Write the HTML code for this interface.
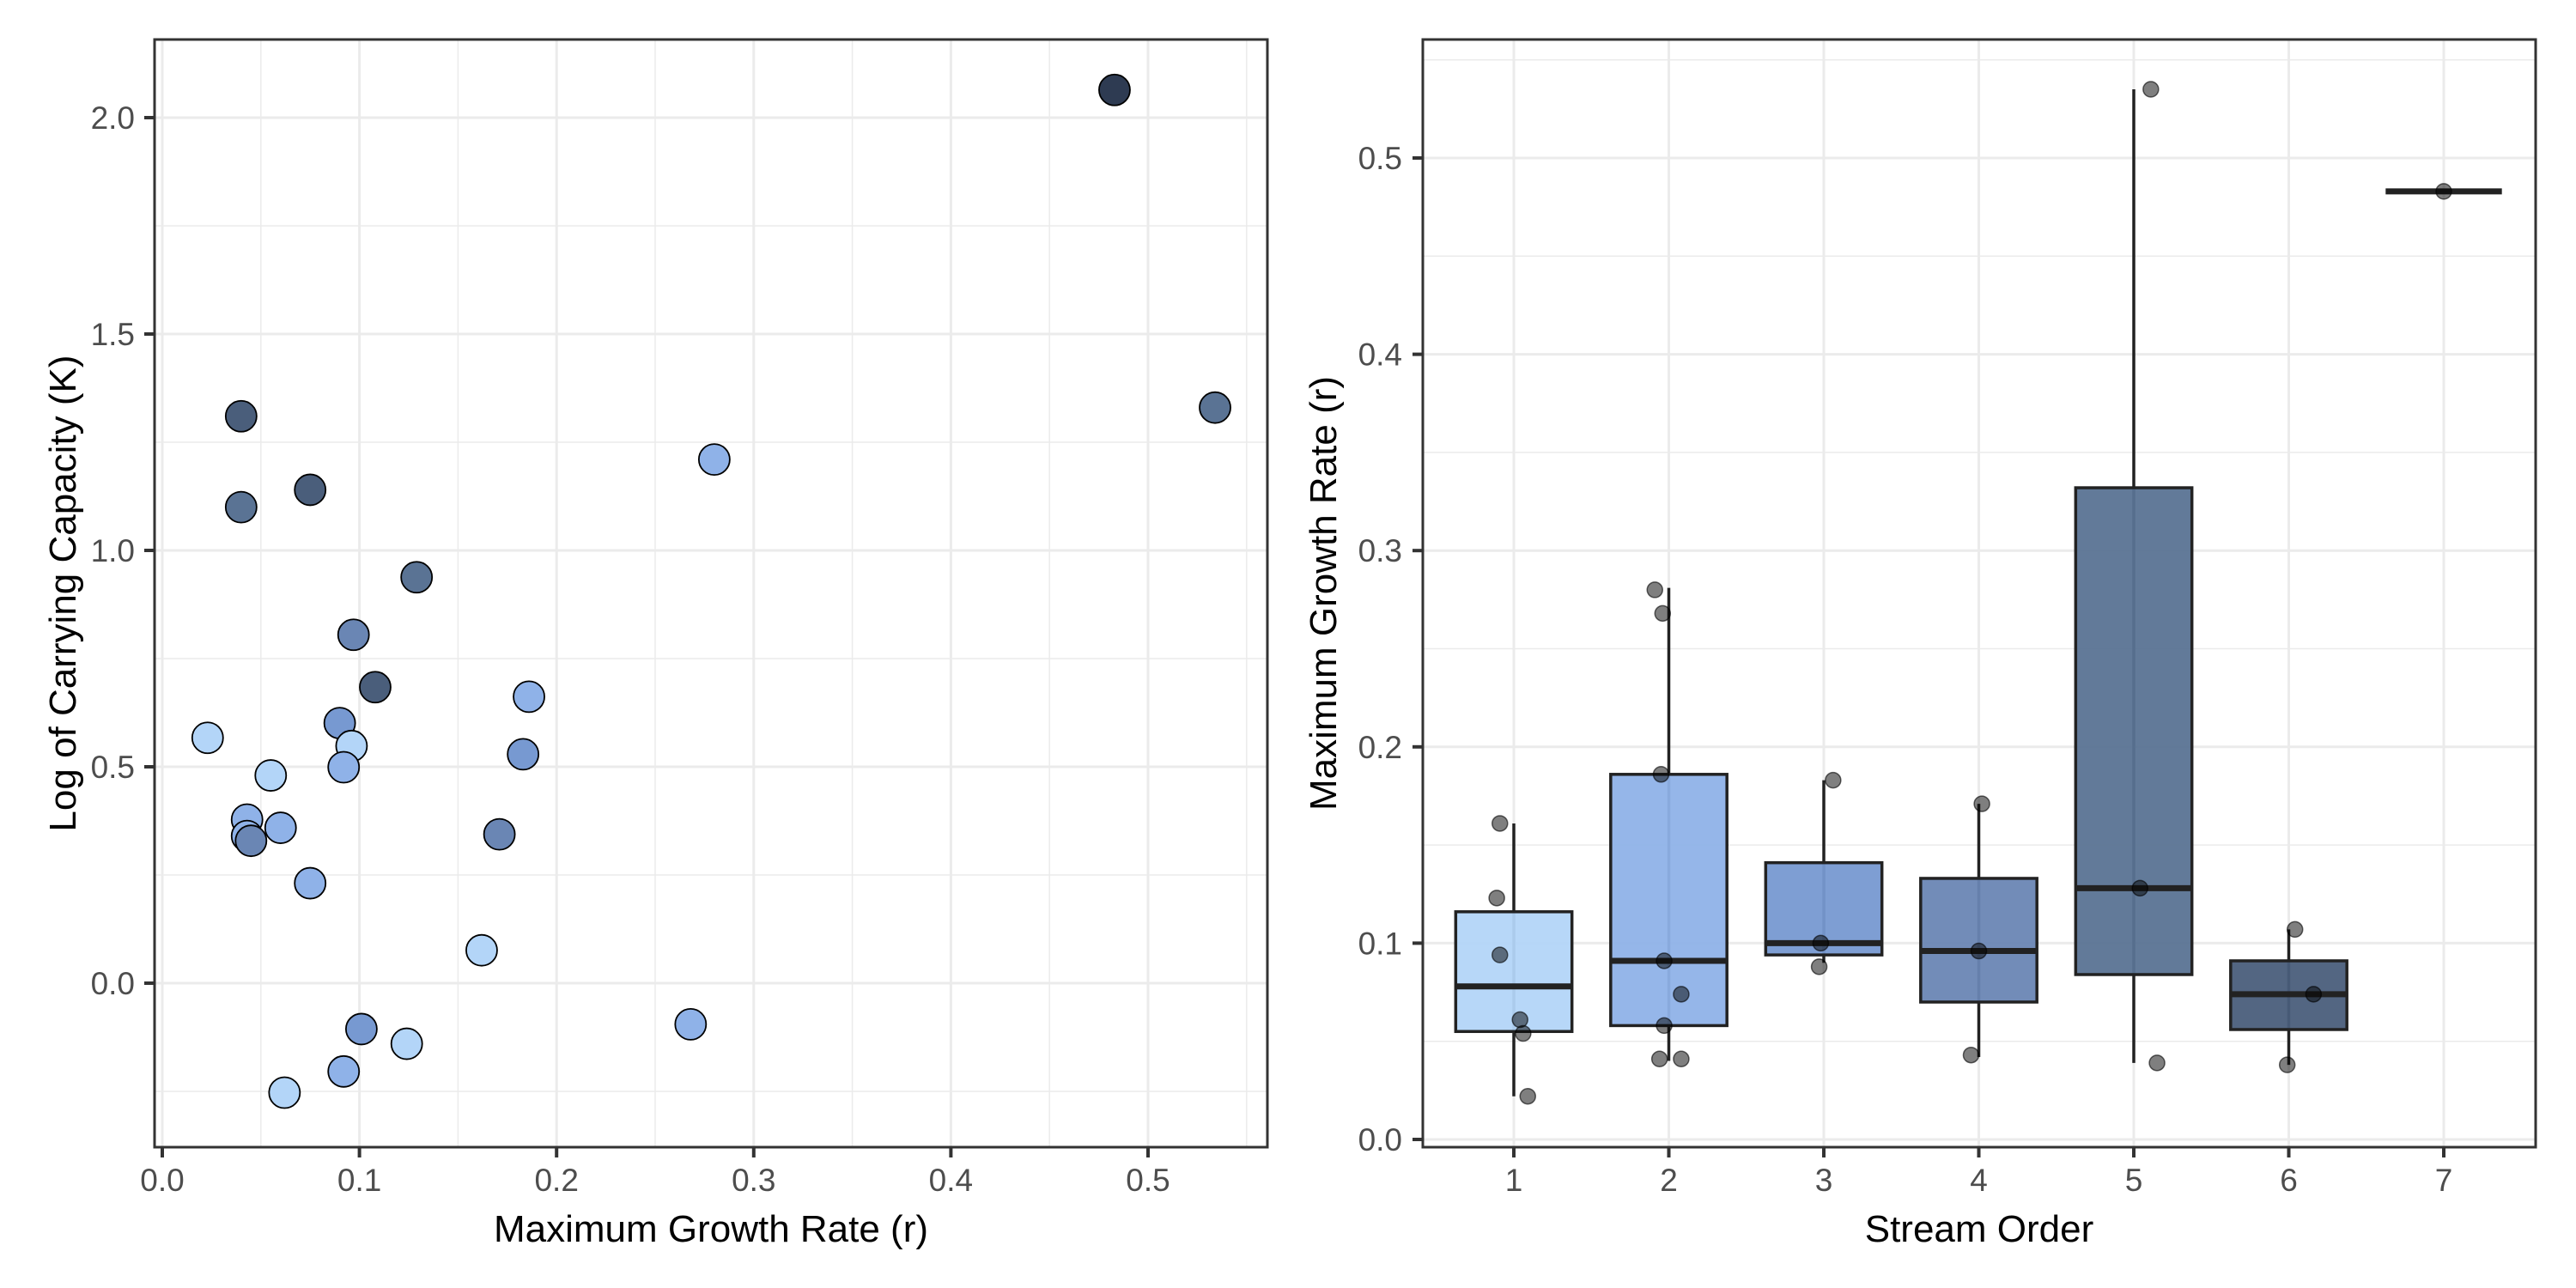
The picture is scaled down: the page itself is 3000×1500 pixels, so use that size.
<!DOCTYPE html>
<html><head><meta charset="utf-8"><style>
html,body{margin:0;padding:0;background:#fff;}
svg{display:block;font-family:"Liberation Sans",Arial,sans-serif;}
</style></head><body>
<svg id="chart" width="3000" height="1500" viewBox="0 0 3000 1500" xmlns="http://www.w3.org/2000/svg">
<rect width="3000" height="1500" fill="#fff"/>
<g id="left"></g>
<g id="right"></g>
</svg>
<script>
// ---- Scatter data ----
const scatterR = [0.483,0.534,0.280,0.040,0.040,0.075,0.129,0.097,0.108,0.023,0.090,0.096,0.092,0.055,0.186,0.183,0.043,0.060,0.043,0.045,0.171,0.075,0.162,0.268,0.101,0.124,0.092,0.062];
const scatterK = [2.064,1.33,1.21,1.31,1.10,1.14,0.938,0.805,0.684,0.567,0.601,0.548,0.499,0.48,0.662,0.529,0.378,0.359,0.34,0.329,0.344,0.231,0.076,-0.095,-0.106,-0.14,-0.204,-0.253];
const scatterOrder = [7,5,2,6,5,6,5,4,6,1,3,1,2,1,2,3,2,2,2,4,4,2,1,2,3,1,2,1];
const xTicksL = [0,0.1,0.2,0.3,0.4,0.5];
const xTickLabelsL = ["0.0","0.1","0.2","0.3","0.4","0.5"];
const yTicksL = [0,0.5,1,1.5,2];
const yTickLabelsL = ["0.0","0.5","1.0","1.5","2.0"];
// ---- Boxplot data ----
const categories = ["1","2","3","4","5","6","7"];
const boxLow = [0.022,0.040,0.090,0.042,0.039,0.038,0.483];
const boxQ1 = [0.055,0.058,0.094,0.070,0.084,0.056,0.483];
const boxMed = [0.078,0.091,0.100,0.096,0.128,0.074,0.483];
const boxQ3 = [0.116,0.186,0.141,0.133,0.332,0.091,0.483];
const boxHigh = [0.161,0.281,0.183,0.171,0.535,0.107,0.483];
const ptCat = [1,1,1,1,1,1, 2,2,2,2,2,2,2,2, 3,3,3, 4,4,4, 5,5,5, 6,6,6, 7];
const ptVal = [0.161,0.123,0.094,0.061,0.054,0.022, 0.280,0.268,0.186,0.091,0.074,0.058,0.041,0.041, 0.088,0.100,0.183, 0.043,0.096,0.171, 0.039,0.128,0.535, 0.038,0.074,0.107, 0.483];
const ptJitter = [-0.09,-0.11,-0.09,0.04,0.06,0.09, -0.09,-0.04,-0.05,-0.03,0.08,-0.03,-0.06,0.08, -0.03,-0.02,0.06, -0.05,0.0,0.02, 0.15,0.04,0.11, -0.01,0.16,0.04, 0.0];
const yTicksR = [0,0.1,0.2,0.3,0.4,0.5];
const yTickLabelsR = ["0.0","0.1","0.2","0.3","0.4","0.5"];

const NS="http://www.w3.org/2000/svg";
const fills = ["#b3d5f8","#8fb2e8","#7799d1","#6a86b4","#5a7394","#4a5e7b","#2e3b52"];
function mk(parent,tag,attrs,text){const e=document.createElementNS(NS,tag);for(const k in attrs)e.setAttribute(k,attrs[k]);if(text!==undefined)e.textContent=text;parent.appendChild(e);return e;}

// ---------- Left panel ----------
const L=document.getElementById('left');
const lx=v=>189+v*2296, ly=v=>137+(2-v)*504;
const LX0=180,LX1=1476,TOP=46,BOT=1336;
for(let v=-0.25;v<=2.2;v+=0.5){const g=mk(L,'line',{x1:LX0,x2:LX1,y1:ly(v),y2:ly(v),stroke:'#ebebeb','stroke-width':1.5});}
for(let v=0.05;v<0.56;v+=0.1){const g=mk(L,'line',{x1:lx(v),x2:lx(v),y1:TOP,y2:BOT,stroke:'#ebebeb','stroke-width':1.5});}
yTicksL.forEach((v,i)=>{const g=mk(L,'line',{x1:LX0,x2:LX1,y1:ly(v),y2:ly(v),stroke:'#ebebeb','stroke-width':3});
 const t=mk(L,'line',{x1:LX0-12,x2:LX0,y1:ly(v),y2:ly(v),stroke:'#333','stroke-width':4});
 const tx=mk(L,'text',{x:157,y:ly(v)+13,'text-anchor':'end','font-size':37,fill:'#4d4d4d'},yTickLabelsL[i]);});
xTicksL.forEach((v,i)=>{const g=mk(L,'line',{x1:lx(v),x2:lx(v),y1:TOP,y2:BOT,stroke:'#ebebeb','stroke-width':3});
 const t=mk(L,'line',{x1:lx(v),x2:lx(v),y1:BOT,y2:BOT+12,stroke:'#333','stroke-width':4});
 const tx=mk(L,'text',{x:lx(v),y:1387,'text-anchor':'middle','font-size':37,fill:'#4d4d4d'},xTickLabelsL[i]);});
scatterR.forEach((r,i)=>{const c=mk(L,'circle',{cx:lx(r),cy:ly(scatterK[i]),r:18,fill:fills[scatterOrder[i]-1],stroke:'#000','stroke-width':1.8});});
let b=mk(L,'rect',{x:LX0,y:TOP,width:LX1-LX0,height:BOT-TOP,fill:'none',stroke:'#333','stroke-width':3});
let t1=mk(L,'text',{x:(LX0+LX1)/2,y:1446,'text-anchor':'middle','font-size':44,fill:'#000'},'Maximum Growth Rate (r)');
let t2=mk(L,'text',{x:0,y:0,'text-anchor':'middle','font-size':44,fill:'#000',transform:'translate(88,691) rotate(-90)'},'Log of Carrying Capacity (K)');

// ---------- Right panel ----------
const R=document.getElementById('right');
const RX0=1657,RX1=2953;
const rx=c=>1763+(c-1)*180.5, ry=v=>1327-v*2286;
for(let v=0.05;v<0.56;v+=0.1){const g=mk(R,'line',{x1:RX0,x2:RX1,y1:ry(v),y2:ry(v),stroke:'#ebebeb','stroke-width':1.5});}
yTicksR.forEach((v,i)=>{const g=mk(R,'line',{x1:RX0,x2:RX1,y1:ry(v),y2:ry(v),stroke:'#ebebeb','stroke-width':3});
 const t=mk(R,'line',{x1:RX0-12,x2:RX0,y1:ry(v),y2:ry(v),stroke:'#333','stroke-width':4});
 const tx=mk(R,'text',{x:1633,y:ry(v)+13,'text-anchor':'end','font-size':37,fill:'#4d4d4d'},yTickLabelsR[i]);});
categories.forEach((c,i)=>{const x=rx(i+1);
 const g=mk(R,'line',{x1:x,x2:x,y1:TOP,y2:BOT,stroke:'#ebebeb','stroke-width':3});
 const t=mk(R,'line',{x1:x,x2:x,y1:BOT,y2:BOT+12,stroke:'#333','stroke-width':4});
 const tx=mk(R,'text',{x:x,y:1387,'text-anchor':'middle','font-size':37,fill:'#4d4d4d'},c);});
const bw=0.75*180.5;
categories.forEach((c,i)=>{const x=rx(i+1);
 const w=mk(R,'line',{x1:x,x2:x,y1:ry(boxHigh[i]),y2:ry(boxLow[i]),stroke:'#222','stroke-width':3.5});
 const bx=mk(R,'rect',{x:x-bw/2,y:ry(boxQ3[i]),width:bw,height:Math.max(0,ry(boxQ1[i])-ry(boxQ3[i])),fill:fills[i],'fill-opacity':0.95,stroke:'#222','stroke-width':3.5});
 const m=mk(R,'line',{x1:x-bw/2,x2:x+bw/2,y1:ry(boxMed[i]),y2:ry(boxMed[i]),stroke:'#222','stroke-width':7});});
ptVal.forEach((v,i)=>{const p=mk(R,'circle',{cx:rx(ptCat[i]+ptJitter[i]),cy:ry(v),r:9,fill:'#000','fill-opacity':0.5,stroke:'#000','stroke-opacity':0.6,'stroke-width':1.5});});
b=mk(R,'rect',{x:RX0,y:TOP,width:RX1-RX0,height:BOT-TOP,fill:'none',stroke:'#333','stroke-width':3});
t1=mk(R,'text',{x:(RX0+RX1)/2,y:1446,'text-anchor':'middle','font-size':44,fill:'#000'},'Stream Order');
t2=mk(R,'text',{x:0,y:0,'text-anchor':'middle','font-size':44,fill:'#000',transform:'translate(1556,691) rotate(-90)'},'Maximum Growth Rate (r)');
</script>
</body></html>
